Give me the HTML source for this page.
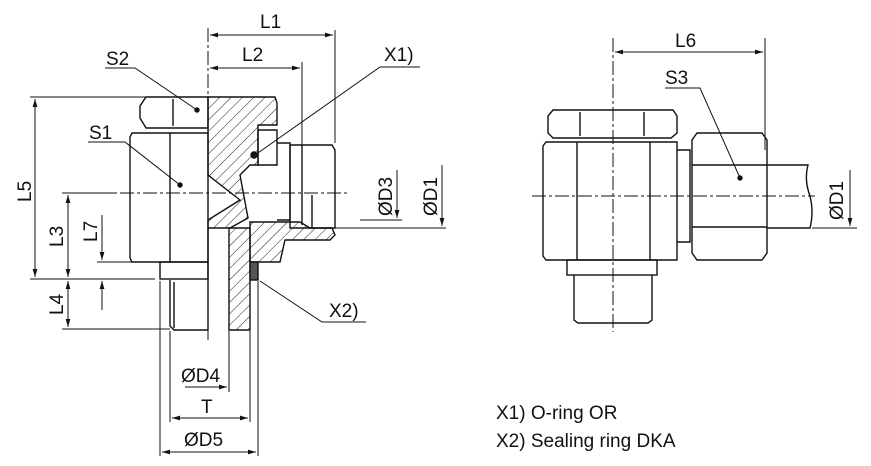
<!DOCTYPE html>
<html><head><style>body{margin:0;background:#fff}svg{display:block}text{font-family:"Liberation Sans",sans-serif;fill:#111}</style></head>
<body>
<svg width="871" height="466" viewBox="0 0 871 466" xmlns="http://www.w3.org/2000/svg">
<defs>
<pattern id="h" width="8" height="8" patternUnits="userSpaceOnUse" patternTransform="rotate(45)"><line x1="0" y1="0" x2="0" y2="8" stroke="#222" stroke-width="1"/></pattern>
<marker id="a" viewBox="0 0 10 6" refX="10" refY="3" markerWidth="8" markerHeight="5" orient="auto-start-reverse"><path d="M0,0 L10,3 L0,6z" fill="#111"/></marker>
</defs>
<g fill="none" stroke="#111" stroke-width="1.4">
<!-- LEFT VIEW -->
<path d="M146,97 H208 V128 H146 L140,118 V106Z"/>
<line x1="173" y1="99" x2="173" y2="126"/>
<path d="M132,133 H208 V262 H132 L130,258 V137Z"/>
<line x1="170" y1="133" x2="170" y2="262"/>
<rect x="160" y="262" width="48" height="17"/>
<path d="M170,280 V326 L174,330 H208"/>
<line x1="174" y1="282" x2="174" y2="328"/>
<!-- hatched body -->
<path fill="url(#h)" d="M208,97 H275 L277,103 V125 H258 V165 H250 L240,175 L248,218 L230,228 H208 V220 L240,200 L208,175Z"/>
<path fill="url(#h)" d="M250,222 H300 L310,228 H332 L335,235 L330,240 H285 L280,262 H250Z"/>
<path fill="url(#h)" d="M229,228 H250 V330 H229Z"/>
<line x1="208" y1="228" x2="208" y2="330"/>
<rect x="250" y="262" width="8" height="18" fill="#555"/>
<path d="M258,130 H277 V165 H258Z"/>
<path d="M277,143 H290 V220 H277"/>
<path d="M290,145 H332 L335,150 V228 H290Z"/>
<line x1="302" y1="145" x2="302" y2="225"/>
<line x1="312" y1="195" x2="312" y2="228"/>
<!-- dims left -->
<g stroke-width="1">
<line x1="208" y1="28" x2="208" y2="340" stroke-dasharray="14,3,3,3"/>
<line x1="335" y1="30" x2="335" y2="143"/>
<line x1="302" y1="62" x2="302" y2="222"/>
<line x1="210" y1="35" x2="333" y2="35" marker-end="url(#a)" marker-start="url(#a)"/>
<line x1="210" y1="68" x2="300" y2="68" marker-end="url(#a)" marker-start="url(#a)"/>
<line x1="30" y1="97" x2="175" y2="97"/>
<line x1="62" y1="193" x2="117" y2="193"/>
<line x1="120" y1="193" x2="348" y2="193" stroke-dasharray="14,3,3,3"/>
<line x1="97" y1="262" x2="160" y2="262"/>
<line x1="30" y1="279" x2="155" y2="279"/>
<line x1="62" y1="329" x2="170" y2="329"/>
<line x1="35" y1="99" x2="35" y2="277" marker-end="url(#a)" marker-start="url(#a)"/>
<line x1="68" y1="195" x2="68" y2="277" marker-end="url(#a)" marker-start="url(#a)"/>
<line x1="68" y1="281" x2="68" y2="327" marker-end="url(#a)" marker-start="url(#a)"/>
<line x1="102" y1="215" x2="102" y2="260" marker-end="url(#a)"/>
<line x1="102" y1="310" x2="102" y2="281" marker-end="url(#a)"/>
<line x1="360" y1="220" x2="402" y2="220"/>
<line x1="397" y1="170" x2="397" y2="218" marker-end="url(#a)"/>
<line x1="312" y1="228" x2="446" y2="228"/>
<line x1="442" y1="165" x2="442" y2="226" marker-end="url(#a)"/>
<line x1="160" y1="281" x2="160" y2="456"/>
<line x1="170" y1="331" x2="170" y2="422"/>
<line x1="229" y1="331" x2="229" y2="392"/>
<line x1="250" y1="331" x2="250" y2="422"/>
<line x1="258" y1="281" x2="258" y2="456"/>
<line x1="185" y1="387" x2="227" y2="387" marker-end="url(#a)"/>
<line x1="172" y1="418" x2="248" y2="418" marker-end="url(#a)" marker-start="url(#a)"/>
<line x1="162" y1="452" x2="256" y2="452" marker-end="url(#a)" marker-start="url(#a)"/>
<polyline points="105,68 135,68 197,110"/>
<polyline points="88,142 125,142 180,185"/>
<polyline points="420,67 380,67 255,155"/>
<polyline points="366,322 322,322 260,281"/>
</g>
<circle cx="197" cy="110" r="2" fill="#111"/><circle cx="180" cy="185" r="2" fill="#111"/><circle cx="254" cy="155" r="3" fill="#111"/>
<!-- RIGHT VIEW -->
<path d="M553,110 H673 L677,116 V133 L671,138 H553 L548,133 V116Z"/>
<line x1="580" y1="112" x2="580" y2="136"/><line x1="644" y1="112" x2="644" y2="136"/>
<path d="M546,142 H677 V260 H546 L543,256 V146Z"/>
<line x1="577" y1="142" x2="577" y2="260"/><line x1="650" y1="142" x2="650" y2="260"/>
<rect x="567" y="260" width="90" height="15"/>
<path d="M574,275 V320 L578,323 H648 L652,320 V275"/>
<path d="M677,150 H690 V242 H677"/>
<path d="M697,133 H762 L767,140 V253 L762,260 H697 L692,253 V140Z"/>
<path d="M692,165 H767 M692,227 H767"/>
<path d="M767,165 H808 Q804,180 810,196 Q814,212 810,228 H767"/>
<g stroke-width="1">
<line x1="613" y1="38" x2="613" y2="332" stroke-dasharray="14,3,3,3"/>
<line x1="532" y1="196" x2="815" y2="196" stroke-dasharray="14,3,3,3"/>
<line x1="765" y1="38" x2="765" y2="150"/>
<line x1="615" y1="52" x2="763" y2="52" marker-end="url(#a)" marker-start="url(#a)"/>
<polyline points="665,88 700,88 740,178"/>
<line x1="812" y1="228" x2="857" y2="228"/>
<line x1="850" y1="170" x2="850" y2="226" marker-end="url(#a)"/>
</g>
<circle cx="740" cy="178" r="2" fill="#111"/>
</g>
<g font-size="19">
<text x="260" y="28">L1</text><text x="242" y="61">L2</text>
<text x="106" y="65">S2</text><text x="89" y="139">S1</text>
<text x="384" y="61">X1)</text><text x="329" y="317">X2)</text>
<text transform="translate(31,202) rotate(-90)">L5</text>
<text transform="translate(63,247) rotate(-90)">L3</text>
<text transform="translate(97,242) rotate(-90)">L7</text>
<text transform="translate(63,315) rotate(-90)">L4</text>
<text transform="translate(392,216) rotate(-90)">ØD3</text>
<text transform="translate(437,216) rotate(-90)">ØD1</text>
<text x="181" y="382">ØD4</text><text x="201" y="413">T</text><text x="184" y="446">ØD5</text>
<text x="675" y="47">L6</text><text x="665" y="84">S3</text>
<text transform="translate(843,220) rotate(-90)">ØD1</text>
<text x="496" y="419">X1) O-ring OR</text>
<text x="496" y="447">X2) Sealing ring DKA</text>
</g>
</svg>
</body></html>
